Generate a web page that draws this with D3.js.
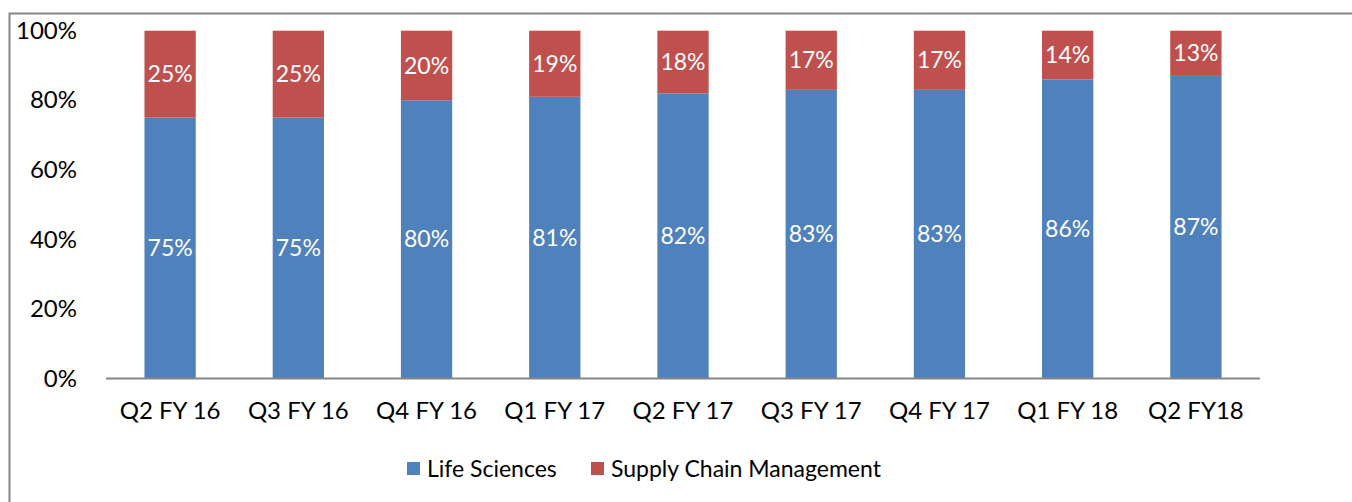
<!DOCTYPE html>
<html>
<head>
<meta charset="utf-8">
<script src="https://cdn.jsdelivr.net/npm/d3@7"></script>
<style>
  body { margin: 0; background: #fff; }
  svg, svg text { font-family: Lato, "Open Sans", sans-serif; }
</style>
</head>
<body>
<div class="chart"></div>
<script>
const quarters = ["Q2 FY 16", "Q3 FY 16", "Q4 FY 16", "Q1 FY 17", "Q2 FY 17", "Q3 FY 17", "Q4 FY 17", "Q1 FY 18", "Q2 FY18"];
const lifeSciences = [75, 75, 80, 81, 82, 83, 83, 86, 87];
const supplyChain = [25, 25, 20, 19, 18, 17, 17, 14, 13];
const seriesNames = ["Life Sciences", "Supply Chain Management"];
const yTicks = [0, 20, 40, 60, 80, 100];

const width = 1352, height = 502;
const margin = { top: 30.7, right: 92, bottom: 123.5, left: 106 };
const colors = ["#4F81BD", "#C0504D"];
const fontSize = 23;
const axisFontSize = 24;

const svg = d3.select(".chart").append("svg")
  .attr("width", width)
  .attr("height", height);

// outer frame, runs off the right and bottom edges
svg.append("rect")
  .attr("x", 9.5).attr("y", 13.5)
  .attr("width", 1400).attr("height", 600)
  .attr("fill", "none")
  .attr("stroke", "#868686")
  .attr("stroke-width", 2);

const x = d3.scaleBand()
  .domain(quarters)
  .range([margin.left, width - margin.right])
  .paddingInner(0.6)
  .paddingOuter(0.3);

const y = d3.scaleLinear()
  .domain([0, 100])
  .range([height - margin.bottom, margin.top]);

const rows = quarters.map((q, i) => ({ q, ls: lifeSciences[i], scm: supplyChain[i] }));
const stacked = d3.stack().keys(["ls", "scm"])(rows);

const layer = svg.selectAll("g.layer")
  .data(stacked)
  .enter().append("g")
  .attr("class", "layer")
  .attr("fill", (d, i) => colors[i]);

layer.selectAll("rect")
  .data((d) => d)
  .enter().append("rect")
  .attr("x", (d) => x(d.data.q))
  .attr("y", (d) => y(d[1]))
  .attr("width", x.bandwidth())
  .attr("height", (d) => y(d[0]) - y(d[1]));

layer.selectAll("text")
  .data((d) => d)
  .enter().append("text")
  .attr("x", (d) => x(d.data.q) + x.bandwidth() / 2)
  .attr("y", (d) => (y(d[0]) + y(d[1])) / 2)
  .attr("dy", "0.35em")
  .attr("text-anchor", "middle")
  .attr("fill", "#fff")
  .attr("font-size", fontSize)
  .text((d) => (d[1] - d[0]) + "%");

// y axis (labels only)
const yAxis = (g) =>
  g.call(d3.axisLeft(y).tickValues(yTicks).tickFormat((d) => d + "%").tickSize(0).tickPadding(29))
    .attr("font-family", null)
    .attr("font-size", axisFontSize)
    .call((g) => g.select(".domain").remove())
    .call((g) => g.selectAll("text").attr("fill", "#000"));

svg.append("g").attr("transform", `translate(${margin.left},0)`).call(yAxis);

// x axis
const xAxis = (g) =>
  g.call(d3.axisBottom(x).tickSize(0).tickPadding(23))
    .attr("font-family", null)
    .attr("font-size", axisFontSize)
    .call((g) => g.select(".domain").attr("stroke", "#868686").attr("stroke-width", 2)
      .attr("d", `M${margin.left},0H${width - margin.right}`))
    .call((g) => g.selectAll("text").attr("fill", "#000"));

svg.append("g").attr("transform", `translate(0,${height - margin.bottom})`).call(xAxis);

// legend
const legendX = [407, 591];
const legend = svg.append("g");
seriesNames.forEach((name, i) => {
  legend.append("rect")
    .attr("x", legendX[i]).attr("y", 462)
    .attr("width", 13).attr("height", 13)
    .attr("fill", colors[i]);
  legend.append("text")
    .attr("x", legendX[i] + 20).attr("y", 469)
    .attr("dy", "0.35em")
    .attr("font-size", fontSize)
    .text(name);
});
</script>
</body>
</html>
